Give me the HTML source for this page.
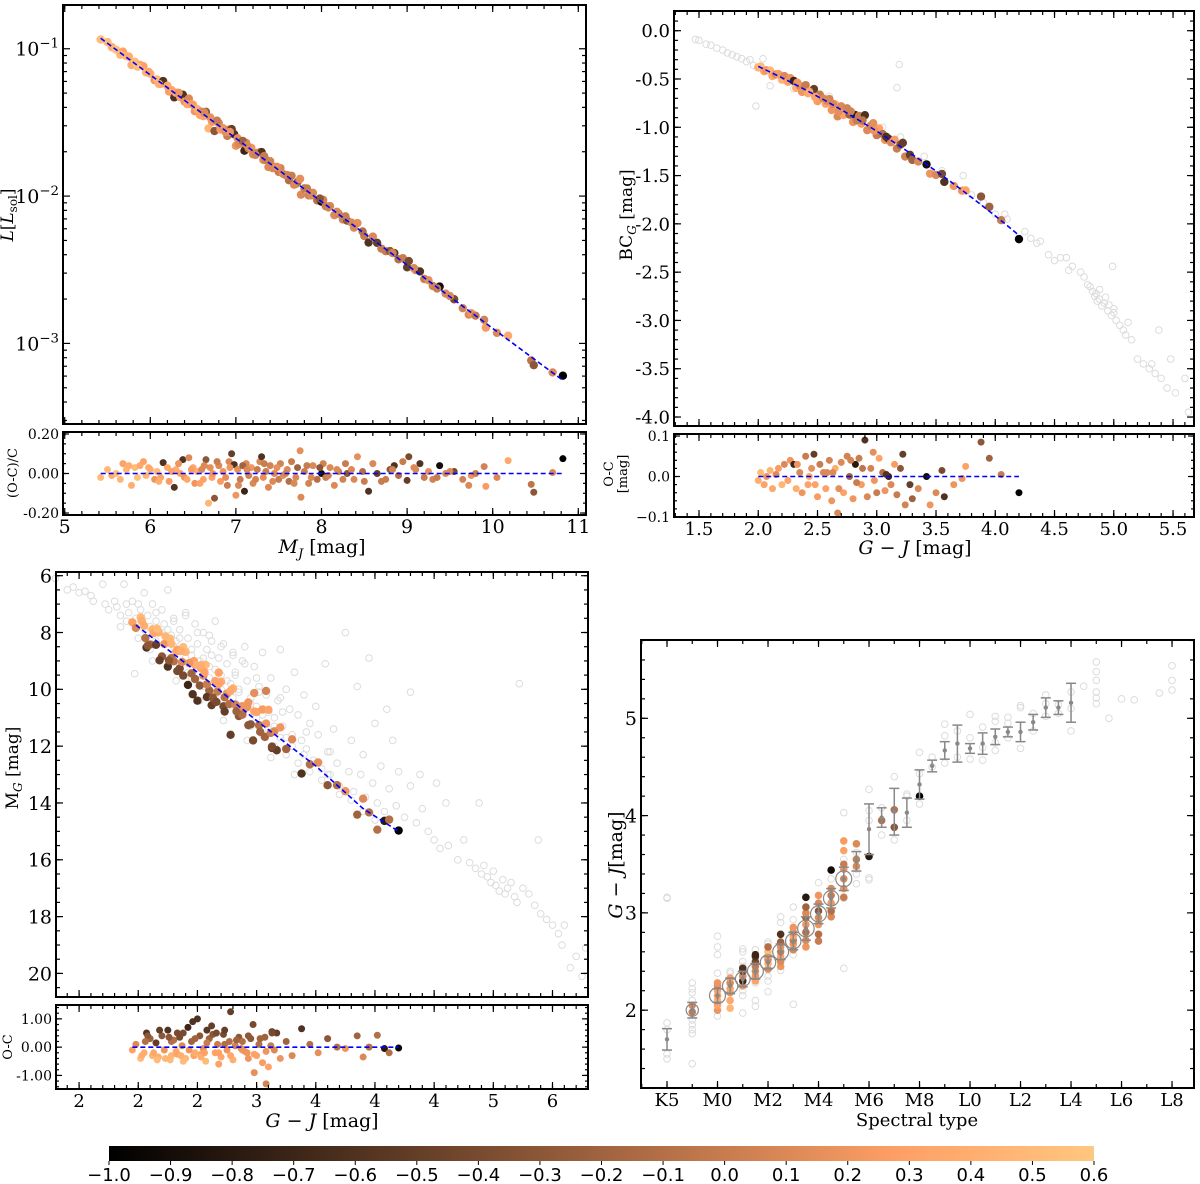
<!DOCTYPE html>
<html><head><meta charset="utf-8"><style>
html,body{margin:0;padding:0;background:#fff}
svg{display:block}
text{font-family:"DejaVu Serif","Liberation Serif",serif;fill:#000}
</style></head><body>
<svg id="fig" xmlns="http://www.w3.org/2000/svg" width="1200" height="1184" viewBox="0 0 1200 1184">
<defs>
<linearGradient id="cmap" x1="0" x2="1" y1="0" y2="0">
<stop offset="0" stop-color="rgb(0,0,0)"/>
<stop offset="0.8" stop-color="rgb(255,159,101)"/>
<stop offset="1" stop-color="rgb(255,199,127)"/>
</linearGradient>
</defs>
<g id="layer"></g>
</svg>
<script>
// ---------- Panel A data: M_J, relative residual (O-C)/C, colour value ----------
const aMJ = [5.42,5.55,5.6,5.68,5.72,5.78,5.82,5.88,5.92,5.95,6.0,6.05,6.08,6.12,6.15,6.2,6.22,6.28,6.3,6.35,6.38,6.4,6.45,6.5,6.52,6.55,6.6,6.62,6.65,6.68,6.7,6.72,6.75,6.8,6.82,6.85,6.9,6.92,6.95,6.98,7.0,7.02,7.05,7.1,7.12,7.15,7.18,7.2,7.25,7.28,7.3,7.32,7.35,7.38,7.4,7.45,7.5,7.52,7.55,7.6,7.62,7.65,7.7,7.72,7.75,7.76,7.8,7.85,7.9,7.95,8.0,8.02,8.05,8.1,8.15,8.2,8.25,8.3,8.35,8.42,8.5,8.55,8.6,8.65,8.75,8.8,8.85,8.9,8.95,9.0,9.02,9.1,9.15,9.2,9.25,9.3,9.38,9.45,9.55,9.72,9.75,9.9,9.92,10.05,10.18,10.45,10.48,10.7,10.82,
5.5,5.65,5.75,5.85,5.98,6.1,6.25,6.33,6.43,6.48,6.58,6.63,6.73,6.78,6.88,6.93,7.03,7.08,7.13,7.23,7.33,7.43,7.48,7.58,7.68,7.83,7.88,7.98,8.08,8.18,8.28,8.38,8.48,8.7,8.83,9.08,9.35,9.5,9.65,9.8];
const aRes = [-0.02,-0.01,0.0,0.05,0.02,-0.06,0.03,0.04,0.06,-0.01,0.02,-0.03,0.01,-0.02,0.055,0.03,-0.04,-0.07,0.02,0.0,0.07,-0.02,0.08,0.03,-0.05,0.01,0.02,-0.03,0.07,-0.15,0.03,-0.02,-0.125,0.04,-0.04,0.01,-0.06,0.06,0.1,0.045,-0.11,0.02,-0.03,-0.09,0.05,-0.01,0.03,-0.05,0.02,0.06,0.085,-0.02,0.01,-0.07,0.04,0.0,-0.03,0.05,-0.01,0.02,-0.04,0.06,-0.02,0.03,0.115,-0.12,0.01,-0.05,0.04,-0.03,0.0,0.05,-0.02,0.03,-0.06,0.01,-0.03,0.0,0.02,0.085,-0.04,-0.09,0.05,0.0,-0.03,0.02,0.04,-0.01,0.06,-0.035,0.085,0.02,0.05,-0.02,0.01,-0.03,0.04,0.0,0.01,-0.06,-0.01,0.035,-0.065,-0.02,0.065,-0.055,-0.095,0.005,0.075,
0.02,-0.03,0.04,-0.02,0.03,-0.04,0.01,0.05,-0.03,0.02,-0.05,0.04,0.0,0.06,-0.02,0.03,-0.06,0.04,0.02,-0.03,0.05,-0.04,0.03,0.0,-0.05,0.04,-0.02,0.03,-0.01,0.02,0.05,-0.03,0.01,-0.04,0.02,0.03,-0.02,0.01,-0.03,0.0];
const aCol = [0.5,0.4,0.55,0.3,0.45,0.4,0.5,0.35,0.3,0.45,0.4,0.2,0.5,0.3,-0.6,0.35,0.25,-0.6,0.4,0.3,-0.6,0.2,0.1,0.35,0.2,0.4,0.1,0.3,-0.3,0.45,0.15,0.3,-0.3,0.1,0.25,0.2,0.0,0.1,-0.5,-0.6,0.2,0.15,0.0,-0.7,0.1,0.05,0.2,0.1,0.0,0.1,-0.6,0.15,0.0,0.1,0.05,0.1,0.0,0.05,0.15,0.1,-0.1,0.0,0.1,-0.2,0.15,0.1,0.0,0.05,0.1,-0.1,-0.9,0.05,0.0,0.1,0.1,0.0,0.05,-0.3,0.1,0.15,0.0,-0.6,0.1,-0.5,0.0,-0.3,-0.6,-0.1,0.0,-0.5,-0.4,0.1,-0.6,0.0,0.15,0.05,-0.9,0.1,-0.4,0.1,0.2,0.05,0.25,0.1,0.35,-0.05,-0.3,0.1,-1.0,
0.5,0.45,0.4,0.55,0.35,0.4,0.3,0.2,0.35,0.25,0.3,0.1,0.2,0.0,0.15,0.2,0.1,-0.2,0.1,0.05,0.0,0.1,0.15,0.05,0.1,0.0,0.1,-0.3,0.05,0.1,0.0,0.1,-0.1,0.0,0.05,0.1,0.0,0.1,0.05,0.0];
// fit: log10 L = p0 + p1*(MJ-5.4)
const aFit = [-0.92,-0.43];

// ---------- Panel B data: G-J, residual (mag), colour ----------
const bX = [2.0,2.02,2.05,2.07,2.1,2.12,2.15,2.17,2.2,2.22,2.25,2.27,2.3,2.32,2.35,2.37,2.4,2.42,2.45,2.47,2.5,2.52,2.55,2.57,2.6,2.62,2.65,2.67,2.7,2.72,2.75,2.77,2.8,2.82,2.85,2.87,2.9,2.92,2.95,2.97,3.0,3.02,3.05,3.07,3.1,3.12,3.15,3.17,3.2,3.22,3.24,2.33,2.48,2.58,2.68,2.78,2.88,2.98,3.08,2.43,2.63,2.83,3.28,3.3,3.35,3.42,3.45,3.5,3.55,3.57,3.65,3.72,3.75,3.88,3.95,4.05,4.2];
const bRes = [-0.01,0.01,-0.02,0.0,0.015,-0.03,0.005,0.02,-0.02,0.03,-0.01,0.04,0.03,-0.03,0.01,-0.04,0.05,-0.02,0.02,0.055,-0.05,0.03,0.01,-0.03,0.04,-0.06,0.02,-0.09,0.035,-0.04,0.05,0.0,-0.055,0.03,0.045,-0.02,0.09,-0.05,0.02,0.06,-0.04,0.045,0.01,-0.035,0.0,-0.02,0.03,-0.045,0.02,0.055,-0.07,0.03,-0.02,0.01,-0.03,0.04,0.02,-0.01,0.005,0.0,0.01,-0.015,-0.02,-0.055,-0.03,0.0,-0.07,-0.04,0.015,-0.05,-0.02,-0.005,0.025,0.085,0.045,0.005,-0.04];
const bCol = [0.4,0.5,0.3,0.2,0.45,0.35,0.1,0.25,0.45,0.1,0.3,0.2,-0.7,0.4,0.1,0.2,0.0,0.3,0.15,-0.5,0.25,0.0,0.1,0.3,0.05,0.2,0.4,0.1,0.1,0.3,0.05,-0.2,0.2,-0.8,0.0,0.25,-0.6,0.1,0.05,0.15,0.0,0.3,-0.1,0.2,-0.7,0.1,0.25,0.0,-0.3,-0.5,0.05,0.2,0.3,0.1,0.15,0.05,-0.05,0.2,-0.6,0.35,0.1,0.0,-0.5,-0.2,0.1,-0.9,0.2,0.1,-0.4,-0.6,0.2,0.2,0.3,-0.3,-0.2,0.0,-1.0];
// fit: BC = c0 + c1*x + c2*x^2
const bFit = [0.354,-0.156,-0.103];
const bGrayX = [1.47,1.5,1.56,1.6,1.65,1.7,1.74,1.78,1.82,1.86,1.9,1.93,1.96,1.98,2.04,2.1,2.2,2.3,2.6,2.8,3.05,3.2,3.4,3.19,3.17,3.55,3.73,3.8,3.9,4.0,4.08,4.1,4.25,4.3,4.35,4.38,4.45,4.5,4.55,4.6,4.62,4.65,4.72,4.75,4.78,4.8,4.82,4.84,4.86,4.88,4.9,4.92,4.95,4.98,5.0,5.02,4.99,5.05,5.08,5.1,5.12,5.15,5.2,5.25,5.3,5.32,5.35,5.38,5.4,5.45,5.48,5.52,5.6,5.63,4.85,4.88,4.93,4.96,5.0];
const bGrayY = [-0.09,-0.1,-0.14,-0.15,-0.18,-0.2,-0.23,-0.25,-0.27,-0.29,-0.32,-0.3,-0.36,-0.78,-0.29,-0.57,-0.5,-0.6,-0.68,-0.85,-1.0,-1.1,-1.3,-0.35,-0.59,-1.45,-1.5,-1.7,-1.78,-1.9,-1.9,-1.95,-2.08,-2.15,-2.2,-2.18,-2.32,-2.38,-2.35,-2.35,-2.48,-2.44,-2.5,-2.55,-2.63,-2.65,-2.7,-2.75,-2.8,-2.78,-2.85,-2.82,-2.9,-2.95,-2.88,-3.0,-2.44,-3.05,-3.1,-3.15,-3.02,-3.2,-3.4,-3.45,-3.5,-3.45,-3.55,-3.1,-3.6,-3.7,-3.4,-3.75,-3.6,-3.95,-2.72,-2.68,-2.76,-2.84,-2.92];

// ---------- Panel C data: G-J, residual M_G, colour ----------
const cX = [1.95,1.98,2.02,2.05,2.07,2.1,2.12,2.15,2.17,2.2,2.22,2.25,2.27,2.3,2.32,2.35,2.37,2.4,2.42,2.45,2.47,2.5,2.52,2.55,2.57,2.6,2.62,2.65,2.67,2.7,2.72,2.75,2.77,2.8,2.82,2.85,2.87,2.9,2.92,2.95,2.97,3.0,3.02,3.05,3.07,3.1,3.12,3.15,3.17,3.2,2.28,2.38,2.48,2.58,2.68,2.78,2.88,2.98,3.08,2.33,2.53,2.73,2.93,3.13,3.25,3.3,3.38,3.45,3.52,3.6,3.68,3.75,3.85,3.9,3.95,4.02,4.08,4.12,4.2,
2.03,2.08,2.13,2.18,2.23,2.28,2.33,2.38,2.43,2.48,2.53,2.58,2.63,2.68,2.73,2.78,2.83,2.88,2.93,2.98,3.03,3.08,3.13,2.06,2.16,2.26,2.36,2.46,2.56,2.66];
const cRes = [-0.1,0.1,-0.4,-0.2,0.5,0.3,-0.3,0.15,-0.35,0.4,-0.1,0.6,-0.45,0.25,-0.15,0.35,0.05,-0.4,0.7,0.2,-0.3,1.0,0.4,-0.05,-0.5,0.3,0.75,-0.2,0.1,-0.35,0.45,-0.1,0.2,-0.45,0.05,0.35,-0.05,-0.15,-0.2,0.3,0.8,-0.3,0.1,-0.55,0.35,-0.7,0.05,-0.1,0.5,-0.4,-0.3,-0.5,-0.2,0.6,-0.6,1.25,0.2,-0.9,-1.3,0.5,-0.25,0.1,-0.4,0.55,0.2,-0.3,0.65,0.1,-0.2,0.3,0.0,-0.05,0.4,-0.35,0.0,0.42,-0.05,-0.2,-0.03,
-0.3,0.4,-0.2,0.6,-0.4,0.2,-0.25,0.5,-0.1,0.3,-0.35,0.15,0.45,-0.2,0.6,-0.3,0.25,-0.1,0.4,-0.25,0.3,-0.15,0.5,0.2,-0.45,0.35,-0.3,0.9,-0.2,0.5];
const cCol = [0.3,0.1,0.5,0.4,-0.6,-0.2,0.45,-0.5,0.4,-0.3,0.2,-0.6,0.5,-0.1,0.35,-0.4,0.1,0.45,-0.7,-0.2,0.3,-0.6,-0.3,0.15,0.5,-0.2,-0.5,0.3,0.0,0.35,-0.4,0.2,-0.1,0.4,0.05,-0.3,0.1,0.25,0.2,-0.3,-0.4,0.3,-0.1,0.25,-0.2,0.3,0.0,0.1,-0.5,0.2,0.45,0.5,0.4,-0.55,0.3,-0.5,-0.1,0.15,0.05,-0.4,0.3,-0.1,0.2,-0.5,-0.2,0.1,-0.6,-0.1,0.15,-0.3,-0.1,0.2,-0.2,0.1,-0.1,-0.1,-0.8,-0.1,-1.0,
0.4,-0.3,0.35,-0.5,0.45,-0.1,0.3,-0.4,0.2,-0.2,0.4,0.0,-0.3,0.3,-0.5,0.35,-0.2,0.2,-0.3,0.3,-0.2,0.2,-0.4,-0.1,0.5,-0.3,0.4,-0.6,0.3,-0.4];
// fit nodes (G-J, M_G)
const cFitX = [1.98,2.5,3.0,3.5,3.9,4.2];
const cFitY = [7.74,9.4,11.1,12.7,14.2,15.0];
const cGrayX = [1.3,1.4,1.45,1.5,1.55,1.6,1.62,1.7,1.72,1.75,1.8,1.82,1.85,1.88,1.9,1.92,1.95,1.98,2.0,2.02,2.05,2.08,2.1,2.12,2.15,2.18,2.2,2.22,2.25,2.28,2.3,2.32,2.35,2.38,2.4,2.42,2.45,2.48,2.5,2.52,2.55,2.58,2.6,2.62,2.65,2.68,2.7,2.72,2.75,2.78,2.8,2.82,2.85,2.88,2.9,2.92,2.95,2.98,3.0,3.02,3.05,3.08,3.1,3.12,3.15,3.18,3.2,3.22,3.25,3.28,3.3,3.32,3.35,3.38,3.4,3.42,3.45,3.48,3.5,3.52,3.55,3.58,3.6,3.62,3.65,3.68,3.7,3.75,3.78,3.8,3.82,3.85,3.88,3.9,3.92,3.95,3.98,4.0,4.02,4.05,4.08,4.1,4.12,4.15,4.18,4.2,4.25,4.3,4.35,4.38,4.4,4.45,4.5,4.52,4.55,4.6,4.62,4.7,4.75,4.8,4.85,4.88,4.9,4.92,4.95,4.98,5.0,5.02,5.05,5.08,5.1,5.12,5.15,5.18,5.2,5.22,5.25,5.3,5.35,5.38,5.4,5.45,5.5,5.55,5.58,5.6,5.65,5.7,5.75,5.78,1.97,2.42,4.3,2.25,2.35,2.45,2.55,2.65,2.75,2.85,2.95,3.05,3.15,3.25,2.4,2.6,2.8,3.0,3.2,2.15,2.3,2.5,2.7,2.9,
1.85,1.9,2.0,2.05,2.1,2.15,2.2,2.25,2.3,2.35,2.4,2.45,2.5,2.55,2.6,2.65,2.7,2.75,2.8,2.85,2.9,2.95,3.0,3.05,3.1,3.15,3.2,3.25,3.3,3.35,3.4,3.45,3.5,3.55,3.6,2.12,2.32,2.52,2.72,2.92,3.12,3.32,2.62,2.82,3.02,3.22,3.42,3.62,3.7,3.8,3.9,4.0];
const cGrayY = [6.1,6.5,6.4,6.6,6.55,6.7,6.9,6.3,7.0,7.2,6.9,7.1,7.4,6.3,7.0,7.3,6.9,7.5,7.0,7.2,6.6,7.4,7.8,7.0,7.6,8.0,7.2,7.7,6.5,8.1,7.5,8.3,7.9,8.5,7.3,8.2,8.8,7.7,8.4,9.0,8.0,8.6,9.2,8.3,7.6,8.9,9.5,8.4,9.1,9.8,8.7,9.4,10.0,9.0,8.5,9.7,10.3,9.2,10.6,9.9,8.7,10.2,10.8,9.6,11.0,10.4,8.6,11.3,10.0,10.7,11.6,9.4,10.9,11.8,10.2,12.1,11.2,12.5,10.6,11.6,12.8,9.1,12.2,13.0,11.4,12.6,13.4,8.0,12.9,11.8,13.6,9.9,13.0,12.3,13.8,8.9,13.3,11.2,14.0,12.7,14.3,10.7,13.5,11.8,14.1,12.9,14.5,13.4,14.7,13.0,14.2,15.0,15.3,13.3,15.6,14.0,15.5,16.0,15.3,16.1,16.3,14.0,16.5,16.2,16.6,16.8,16.4,16.9,17.1,16.7,17.2,17.0,16.8,17.3,17.5,9.8,17.0,17.2,17.6,15.3,17.9,18.1,18.3,18.6,19.0,18.3,19.8,19.4,20.1,19.1,9.45,9.4,10.1,7.9,8.2,8.6,8.9,9.3,9.7,10.1,10.5,10.9,11.3,11.7,7.4,8.1,8.8,9.6,10.3,7.3,7.6,8.0,8.5,9.1,
7.8,7.6,8.2,7.9,8.6,8.3,8.0,8.9,8.5,9.2,8.9,9.6,9.2,9.9,9.6,10.2,10.0,10.6,10.3,10.9,10.7,11.3,11.0,11.6,11.4,12.0,11.7,12.3,12.0,12.6,12.3,12.9,12.6,13.2,13.0,9.0,9.7,10.4,11.1,11.8,12.4,13.0,8.8,9.5,10.1,10.8,11.5,12.2,13.7,13.9,14.3,14.6];

// ---------- Panel D data: spectral-type bins ----------
const dBinSpt = [-2,-1,0,0.5,1,1.5,2,2.5,3,3.5,4,4.5,5,5.5,6,6.5,7,7.5,8,8.5,9,9.5,10,10.5,11,11.5,12,12.5,13,13.5,14];
const dBinMean = [1.70,2.0,2.15,2.25,2.32,2.40,2.49,2.60,2.71,2.84,2.99,3.15,3.35,3.53,3.86,3.98,4.04,4.03,4.32,4.51,4.67,4.74,4.69,4.74,4.81,4.86,4.86,4.96,5.11,5.11,5.16];
const dBinErr = [0.11,0.08,0.07,0.08,0.08,0.08,0.06,0.08,0.09,0.12,0.1,0.1,0.12,0.1,0.26,0.1,0.24,0.15,0.15,0.06,0.09,0.19,0.05,0.11,0.08,0.05,0.1,0.08,0.1,0.07,0.2];
const dColSpt = [-1,-1,0,0,0,0,0,0,0,0.5,0.5,0.5,0.5,0.5,0.5,1,1,1,1,1,1.5,1.5,1.5,1.5,1.5,1.5,1.5,2,2,2,2,2,2,2.5,2.5,2.5,2.5,2.5,2.5,2.5,3,3,3,3,3,3,3.5,3.5,3.5,3.5,3.5,3.5,3.5,3.5,4,4,4,4,4,4,4,4.5,4.5,4.5,4.5,4.5,4.5,5,5,5,5,5,5,5,5.5,5.5,5.5,6,6.5,7,7,8];
const dColVal = [2.05,1.98,2.0,2.05,2.1,2.15,2.2,2.25,2.28,2.02,2.1,2.18,2.22,2.28,2.33,2.25,2.3,2.35,2.4,2.43,2.3,2.35,2.4,2.45,2.5,2.55,2.57,2.42,2.48,2.52,2.56,2.6,2.65,2.45,2.5,2.55,2.6,2.65,2.7,2.78,2.62,2.68,2.72,2.76,2.8,2.85,2.65,2.72,2.8,2.88,2.95,3.0,3.06,3.16,2.71,2.78,2.88,2.95,3.02,3.1,3.18,2.96,3.02,3.1,3.18,3.25,3.44,3.16,3.25,3.35,3.45,3.5,3.64,3.74,3.48,3.55,3.71,3.58,3.95,3.88,4.06,4.2];
const dColC = [0.1,0.0,0.2,0.3,0.4,0.25,0.3,0.15,0.2,0.45,0.35,0.2,0.3,0.1,0.25,0.2,-0.7,0.1,-0.5,-0.6,0.3,0.2,0.1,0.0,-0.4,-0.6,-0.7,0.2,0.4,0.1,0.3,0.5,-0.1,0.2,0.1,0.3,0.0,0.15,-0.2,-0.6,0.1,0.2,0.0,0.3,0.1,0.2,0.2,0.1,-0.1,0.2,-0.2,0.1,-0.2,-0.8,0.0,-0.1,0.2,0.1,-0.3,0.1,0.2,0.1,-0.1,0.2,0.0,0.1,-0.9,0.0,0.2,0.1,0.2,0.0,0.3,0.25,0.1,0.0,0.1,-0.8,-0.1,-0.3,-0.1,-1.0];
const dGraySpt = [-2,-2,-2,-2,-2,-2,-1,-1,-1,-1,-1,-1,-1,-1,-1,0,0,0,0,0,0.5,0.5,1,1,1,1,1,1,1,1.5,1.5,1.5,1.5,2,2,2,2,2,2.5,2.5,2.5,3,3,3,3,3.5,4,4,4.5,4.5,5,5,5,5,5.5,5.5,5.5,5.5,6,6,6,6,6,6.5,6.5,7,7,7.5,7.5,7.5,8,8,8,8.5,8.5,9,9,9,9.5,9.5,10,10,10,10.5,10.5,10.5,11,11,11,11,11.5,11.5,11.5,12,12,12,12.5,12.5,13,13,13,13.5,13.5,14,14,14,14.5,15,15,15,15,15,15,15.5,16,16.5,17.5,18,18,18];
const dGrayVal = [3.16,3.15,1.87,1.5,1.55,1.8,2.28,2.22,2.18,2.1,1.9,1.85,1.8,1.76,1.45,2.76,2.65,2.57,2.38,1.94,2.4,2.38,2.63,2.6,2.5,2.45,2.2,2.15,1.97,2.62,2.1,2.04,2.28,2.7,2.68,2.35,2.3,2.19,2.96,2.9,2.41,3.06,2.93,2.57,2.06,2.7,3.31,2.9,3.35,3.0,4.03,3.55,2.43,3.15,3.62,3.4,3.3,3.45,4.27,4.05,3.95,3.36,3.34,4.08,3.8,4.4,3.75,4.22,4.2,3.95,4.65,4.43,4.12,4.6,4.5,4.94,4.82,4.54,4.87,4.6,5.04,4.8,4.58,4.91,4.57,4.7,5.02,4.97,4.67,4.75,5.01,4.95,4.8,5.13,5.11,4.69,5.05,4.87,5.24,5.15,5.02,5.14,5.05,5.27,5.1,4.87,5.33,5.58,5.48,5.39,5.27,5.21,5.15,5.0,5.2,5.19,5.26,5.54,5.39,5.29];

// ---------- Colour bar ticks ----------
const cbTicks = [-1.0,-0.9,-0.8,-0.7,-0.6,-0.5,-0.4,-0.3,-0.2,-0.1,0.0,0.1,0.2,0.3,0.4,0.5,0.6];

const NS = 'http://www.w3.org/2000/svg';
const layer = document.getElementById('layer');
function el(tag, attrs, parent) {
  const e = document.createElementNS(NS, tag);
  for (const k in attrs) e.setAttribute(k, attrs[k]);
  (parent || layer).appendChild(e);
  return e;
}
function copper(v) {
  let t = (v + 1) / 1.6; t = Math.max(0, Math.min(1, t));
  const r = Math.min(1, 1.25 * t), g = 0.7812 * t, b = 0.4975 * t;
  return 'rgb(' + Math.round(r * 255) + ',' + Math.round(g * 255) + ',' + Math.round(b * 255) + ')';
}
function axes(x0, y0, w, h, xmin, xmax, ymin, ymax) {
  return {
    x0: x0, y0: y0, w: w, h: h,
    sx: v => x0 + (v - xmin) / (xmax - xmin) * w,
    sy: v => y0 + h - (v - ymin) / (ymax - ymin) * h
  };
}
function frame(ax, name) {
  const r = el('rect', {x: ax.x0, y: ax.y0, width: ax.w, height: ax.h, fill: 'none', stroke: '#000', 'stroke-width': 2});
  
  
}
function xticks(ax, vals, len, labels, fs, ly, name) {
  const g = el('g', {});
  
  
  vals.forEach((v, i) => {
    const x = ax.sx(v);
    if (x < ax.x0 - 0.5 || x > ax.x0 + ax.w + 0.5) return;
    el('line', {x1: x, x2: x, y1: ax.y0 + ax.h, y2: ax.y0 + ax.h - len, stroke: '#000', 'stroke-width': 1.2}, g);
    el('line', {x1: x, x2: x, y1: ax.y0, y2: ax.y0 + len, stroke: '#000', 'stroke-width': 1.2}, g);
    if (labels) {
      const t = el('text', {x: x, y: ly, 'font-size': fs, 'text-anchor': 'middle'}, g);
      t.textContent = labels[i];
    }
  });
}
function yticks(ax, vals, len, labels, fs, name, sup) {
  const g = el('g', {});
  
  
  vals.forEach((v, i) => {
    const y = ax.sy(v);
    if (y < ax.y0 - 0.5 || y > ax.y0 + ax.h + 0.5) return;
    el('line', {x1: ax.x0, x2: ax.x0 + len, y1: y, y2: y, stroke: '#000', 'stroke-width': 1.2}, g);
    el('line', {x1: ax.x0 + ax.w, x2: ax.x0 + ax.w - len, y1: y, y2: y, stroke: '#000', 'stroke-width': 1.2}, g);
    if (labels) {
      const t = el('text', {x: ax.x0 - 4, y: y + fs * 0.36, 'font-size': fs, 'text-anchor': 'end'}, g);
      if (sup) {
        t.textContent = '10';
        const s = el('tspan', {dy: -8, 'font-size': fs * 0.7}, t);
        s.textContent = labels[i];
      } else t.textContent = labels[i];
    }
  });
}
function range(a, b, s) { const r = []; for (let v = a; v <= b + 1e-9; v += s) r.push(Math.round(v * 1000) / 1000); return r; }
function label(x, y, txt, fs, rot, name) {
  const t = el('text', {x: x, y: y, 'font-size': fs, 'text-anchor': 'middle', transform: rot ? 'rotate(-90 ' + x + ' ' + y + ')' : ''});
  
  
  t.innerHTML = txt;
  return t;
}
function dot(x, y, r, fill, g) { return el('circle', {cx: x, cy: y, r: r, fill: fill}, g); }
function ring(x, y, r, g) { return el('circle', {cx: x, cy: y, r: r, fill: 'none', stroke: '#dcdcdc', 'stroke-width': 1}, g); }

// ================= Panel A =================
const A = axes(63, 5, 523, 419, 4.98, 11.09, -3.547, -0.703);
const Ar = axes(63, 432, 523, 83, 4.98, 11.09, -0.21, 0.21);
const aF = m => aFit[0] + aFit[1] * (m - 5.4);
{
  const g = el('g', {});
  
  
  aMJ.forEach((m, i) => {
    const c = dot(A.sx(m), A.sy(aF(m) + Math.log10(1 + aRes[i])), 4.2, copper(aCol[i]), g);
    
    
  });
  const l = el('line', {x1: A.sx(5.42), y1: A.sy(aF(5.42)), x2: A.sx(10.82), y2: A.sy(aF(10.82)), stroke: '#0000ff', 'stroke-width': 1.6, 'stroke-dasharray': '5,3'});
  
  
  const gr = el('g', {});
  
  
  aMJ.forEach((m, i) => {
    const c = dot(Ar.sx(m), Ar.sy(aRes[i]), 3.5, copper(aCol[i]), gr);
    
    
  });
  const z = el('line', {x1: Ar.sx(5.42), y1: Ar.sy(0), x2: Ar.sx(10.82), y2: Ar.sy(0), stroke: '#0000ff', 'stroke-width': 1.6, 'stroke-dasharray': '5,3'});
  
  
}
frame(A, 'luminosity-panel-frame');
frame(Ar, 'luminosity-residual-frame');
xticks(A, range(5, 11, 1), 7, null, 0, 0, 'luminosity-x-ticks');
xticks(A, range(5, 11, 0.2), 4, null, 0, 0, 'luminosity-x-minor');
{
  const minors = [];
  for (let d = -4; d <= 0; d++) for (let k = 2; k <= 9; k++) minors.push(d + Math.log10(k));
  yticks(A, minors, 4, null, 0, 'luminosity-y-minor');
  yticks(A, [-1, -2, -3], 7, ['\u22121', '\u22122', '\u22123'], 19, 'luminosity-y-ticks', true);
}
xticks(Ar, range(5, 11, 1), 7, ['5','6','7','8','9','10','11'], 19, 533, 'luminosity-residual-x-ticks');
xticks(Ar, range(5, 11, 0.2), 4, null, 0, 0, 'luminosity-residual-x-minor');
yticks(Ar, [0.2, 0, -0.2], 6, ['0.20', '0.00', '-0.20'], 14, 'luminosity-residual-y-ticks');
yticks(Ar, range(-0.2, 0.2, 0.05), 3, null, 0, 'luminosity-residual-y-minor');
label(13, 215, '<tspan font-style="italic">L</tspan>[<tspan font-style="italic">L</tspan><tspan font-size="12" dy="4">sol</tspan><tspan dy="-4">]</tspan>', 17, true, 'luminosity-y-title');
label(17, 473, '(O-C)/C', 13, true, 'luminosity-residual-y-title');
label(322, 553, '<tspan font-style="italic">M</tspan><tspan font-style="italic" font-size="13" dy="5">J</tspan><tspan dy="-5"> [mag]</tspan>', 19, false, 'luminosity-x-title');

// ================= Panel B =================
const B = axes(674, 11, 520, 415, 1.289, 5.677, -4.093, 0.204);
const Br = axes(674, 434, 520, 83, 1.289, 5.677, -0.1, 0.105);
const bF = x => bFit[0] + bFit[1] * x + bFit[2] * x * x;
{
  const gg = el('g', {});
  
  
  bGrayX.forEach((x, i) => { ring(B.sx(x), B.sy(bGrayY[i]), 3.3, gg); });
  const g = el('g', {});
  
  
  bX.forEach((x, i) => {
    const c = dot(B.sx(x), B.sy(bF(x) + bRes[i]), 4.2, copper(bCol[i]), g);
    
    
  });
  let d = '';
  for (let x = 2.0; x <= 4.2001; x += 0.05) d += (d ? 'L' : 'M') + B.sx(x).toFixed(1) + ',' + B.sy(bF(x)).toFixed(1);
  const p = el('path', {d: d, fill: 'none', stroke: '#0000ff', 'stroke-width': 1.6, 'stroke-dasharray': '5,3'});
  
  
  const gr = el('g', {});
  
  
  bX.forEach((x, i) => {
    const c = dot(Br.sx(x), Br.sy(bRes[i]), 3.5, copper(bCol[i]), gr);
    
    
  });
  const z = el('line', {x1: Br.sx(2.0), y1: Br.sy(0), x2: Br.sx(4.2), y2: Br.sy(0), stroke: '#0000ff', 'stroke-width': 1.6, 'stroke-dasharray': '5,3'});
  
  
}
frame(B, 'bc-panel-frame');
frame(Br, 'bc-residual-frame');
xticks(B, range(1.5, 5.5, 0.5), 7, null, 0, 0, 'bc-x-ticks');
xticks(B, range(1.3, 5.6, 0.1), 4, null, 0, 0, 'bc-x-minor');
yticks(B, range(-4, 0, 0.5), 7, ['-4.0','-3.5','-3.0','-2.5','-2.0','-1.5','-1.0','-0.5','0.0'], 18, 'bc-y-ticks');
yticks(B, range(-4.0, 0.2, 0.1), 4, null, 0, 'bc-y-minor');
xticks(Br, range(1.5, 5.5, 0.5), 7, ['1.5','2.0','2.5','3.0','3.5','4.0','4.5','5.0','5.5'], 18, 535, 'bc-residual-x-ticks');
xticks(Br, range(1.3, 5.6, 0.1), 4, null, 0, 0, 'bc-residual-x-minor');
yticks(Br, [-0.1, 0, 0.1], 6, ['\u22120.1', '0.0', '0.1'], 14, 'bc-residual-y-ticks');
yticks(Br, range(-0.1, 0.1, 0.02), 3, null, 0, 'bc-residual-y-minor');
label(632, 215, 'BC<tspan font-style="italic" font-size="12" dy="4">G</tspan><tspan dy="-4"> [mag]</tspan>', 17, true, 'bc-y-title');
label(613, 474, 'O-C', 13, true, 'bc-residual-y-title-line1');
label(627, 474, '[mag]', 13, true, 'bc-residual-y-title-line2');
label(915, 554, '<tspan font-style="italic">G</tspan> \u2212 <tspan font-style="italic">J</tspan> [mag]', 19, false, 'bc-x-title');

// ================= Panel C =================
const C = axes(56, 572, 532, 425, 1.305, 5.80, 20.83, 5.87);
const Cr = axes(56, 1005, 532, 84, 1.305, 5.80, -1.48, 1.49);
function cF(x) {
  if (x <= cFitX[0]) return cFitY[0];
  for (let i = 1; i < cFitX.length; i++) {
    if (x <= cFitX[i]) { const t = (x - cFitX[i-1]) / (cFitX[i] - cFitX[i-1]); return cFitY[i-1] + t * (cFitY[i] - cFitY[i-1]); }
  }
  return cFitY[cFitY.length - 1];
}
{
  const gg = el('g', {});
  
  
  cGrayX.forEach((x, i) => { ring(C.sx(x), C.sy(cGrayY[i]), 3.3, gg); });
  const g = el('g', {});
  
  
  cX.forEach((x, i) => {
    const c = dot(C.sx(x), C.sy(cF(x) + cRes[i]), 4.2, copper(cCol[i]), g);
    
    
  });
  let d = '';
  cFitX.forEach((x, i) => { d += (i ? 'L' : 'M') + C.sx(x).toFixed(1) + ',' + C.sy(cFitY[i]).toFixed(1); });
  const p = el('path', {d: d, fill: 'none', stroke: '#0000ff', 'stroke-width': 1.6, 'stroke-dasharray': '5,3'});
  
  
  const gr = el('g', {});
  
  
  cX.forEach((x, i) => {
    const c = dot(Cr.sx(x), Cr.sy(cRes[i]), 3.5, copper(cCol[i]), gr);
    
    
  });
  const z = el('line', {x1: Cr.sx(1.95), y1: Cr.sy(0), x2: Cr.sx(4.2), y2: Cr.sy(0), stroke: '#0000ff', 'stroke-width': 1.6, 'stroke-dasharray': '5,3'});
  
  
}
frame(C, 'cmd-panel-frame');
frame(Cr, 'cmd-residual-frame');
xticks(C, range(1.5, 5.5, 0.5), 7, null, 0, 0, 'cmd-x-ticks');
xticks(C, range(1.4, 5.8, 0.1), 4, null, 0, 0, 'cmd-x-minor');
yticks(C, range(6, 20, 2), 7, ['6','8','10','12','14','16','18','20'], 19, 'cmd-y-ticks');
yticks(C, range(6, 20.5, 0.5), 4, null, 0, 'cmd-y-minor');
xticks(Cr, range(1.5, 5.5, 0.5), 7, ['2','2','2','3','4','4','4','5','6'], 18, 1107, 'cmd-residual-x-ticks');
xticks(Cr, range(1.4, 5.8, 0.1), 4, null, 0, 0, 'cmd-residual-x-minor');
yticks(Cr, [-1, 0, 1], 6, ['-1.00', '0.00', '1.00'], 14, 'cmd-residual-y-ticks');
yticks(Cr, range(-1.4, 1.4, 0.2), 3, null, 0, 'cmd-residual-y-minor');
label(18, 768, 'M<tspan font-style="italic" font-size="12" dy="4">G</tspan><tspan dy="-4"> [mag]</tspan>', 17, true, 'cmd-y-title');
label(12, 1047, 'O-C', 13, true, 'cmd-residual-y-title');
label(322, 1127, '<tspan font-style="italic">G</tspan> \u2212 <tspan font-style="italic">J</tspan> [mag]', 19, false, 'cmd-x-title');

// ================= Panel D =================
const D = axes(641, 640, 553, 448, -3.03, 18.87, 1.20, 5.805);
{
  const gg = el('g', {});
  
  
  dGraySpt.forEach((s, i) => { ring(D.sx(s), D.sy(dGrayVal[i]), 3.3, gg); });
  const g = el('g', {});
  
  
  dColSpt.forEach((s, i) => {
    const c = dot(D.sx(s), D.sy(dColVal[i]), 3.8, copper(dColC[i]), g);
    
    
  });
  const ge = el('g', {});
  
  
  dBinSpt.forEach((s, i) => {
    const x = D.sx(s), y1 = D.sy(dBinMean[i] - dBinErr[i]), y2 = D.sy(dBinMean[i] + dBinErr[i]);
    el('line', {x1: x, x2: x, y1: y1, y2: y2, stroke: '#888', 'stroke-width': 1.5}, ge);
    el('line', {x1: x - 5, x2: x + 5, y1: y1, y2: y1, stroke: '#888', 'stroke-width': 1.5}, ge);
    el('line', {x1: x - 5, x2: x + 5, y1: y2, y2: y2, stroke: '#888', 'stroke-width': 1.5}, ge);
    el('circle', {cx: x, cy: D.sy(dBinMean[i]), r: 2.2, fill: '#888'}, ge);
    const n = dColSpt.filter(v => v === s).length;
    if (n > 0 && s <= 5) {
      const c = el('circle', {cx: x, cy: D.sy(dBinMean[i]), r: 4 + 1.5 * Math.sqrt(n), fill: 'none', stroke: '#888', 'stroke-width': 1.2}, ge);
      
      
    }
  });
}
frame(D, 'spt-panel-frame');
xticks(D, range(-2, 18, 2), 7, ['K5','M0','M2','M4','M6','M8','L0','L2','L4','L6','L8'], 18, 1106, 'spt-x-ticks');
xticks(D, range(-3, 18, 1), 4, null, 0, 0, 'spt-x-minor');
yticks(D, [2, 3, 4, 5], 7, ['2','3','4','5'], 19, 'spt-y-ticks');
yticks(D, range(1.2, 5.8, 0.2), 4, null, 0, 'spt-y-minor');
label(622, 865, '<tspan font-style="italic">G</tspan> \u2212 <tspan font-style="italic">J</tspan>[mag]', 19, true, 'spt-y-title');
label(917, 1126, 'Spectral type', 18, false, 'spt-x-title');

// ================= Colour bar =================
{
  const x0 = 109, x1 = 1094, y0 = 1146, h = 15;
  const r = el('rect', {x: x0, y: y0, width: x1 - x0, height: h, fill: 'url(#cmap)'});
  
  
  const g = el('g', {});
  
  
  cbTicks.forEach(v => {
    const x = x0 + (v + 1) / 1.6 * (x1 - x0);
    el('line', {x1: x, x2: x, y1: y0 + h, y2: y0 + h + 4, stroke: '#000', 'stroke-width': 1}, g);
    const t = el('text', {x: x, y: 1181, 'font-size': 18, 'text-anchor': 'middle', style: 'font-family:"DejaVu Sans","Liberation Sans",sans-serif'}, g);
    t.textContent = (v < 0 ? '\u2212' : '') + Math.abs(v).toFixed(1);
  });
}
</script>
</body></html>
